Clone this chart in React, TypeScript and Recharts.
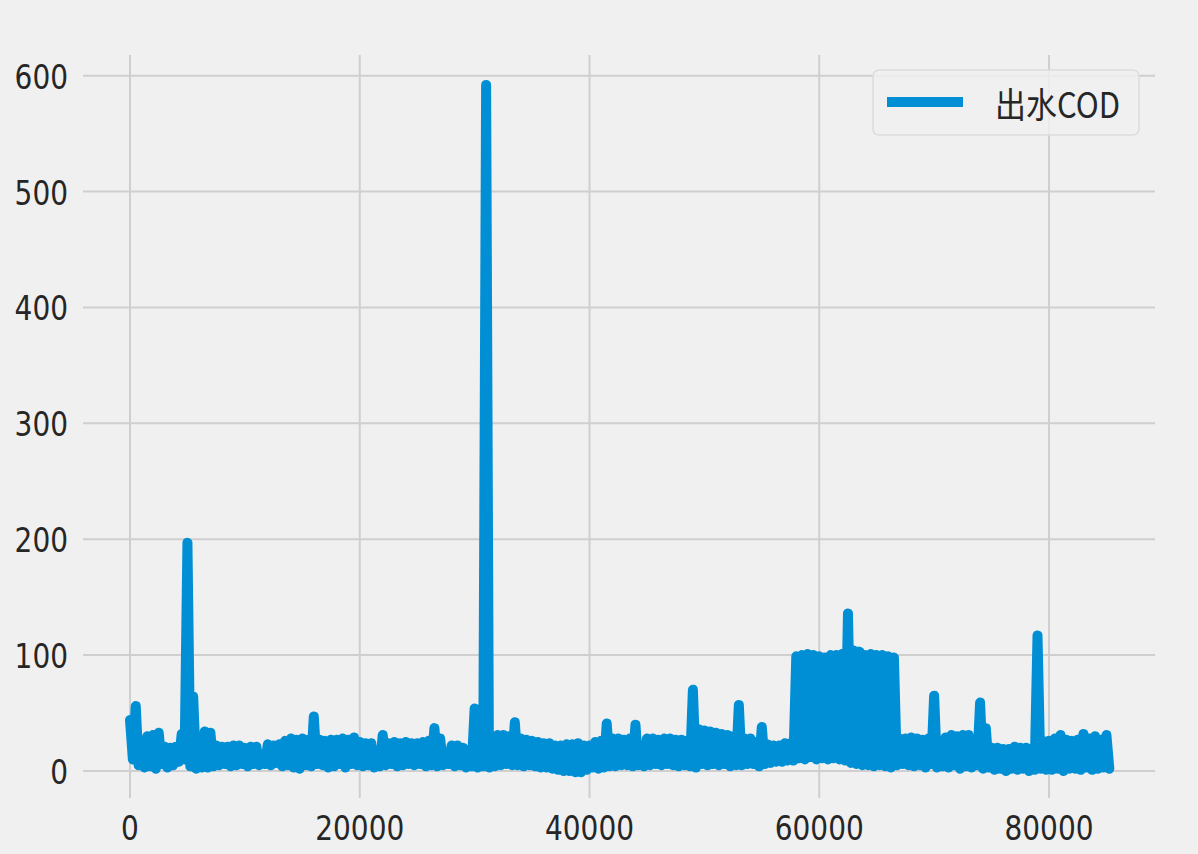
import React from "react";
import { LineChart, Line, XAxis, YAxis, CartesianGrid, Legend } from "recharts";

// Row-index spacing of the samples (one peak + one trough per step)
const SAMPLE_STEP = 500;

// Upper values of 出水COD, one per 500 rows, starting at row 0 (spikes included)
const codPeaks: number[] = [
  44, 56, 12, 30, 31, 33, 21, 20, 21, 32, // 0 - 4500
  197, 64, 25, 34, 33, 22, 21, 21, 22, 22, // 5000 - 9500
  20, 21, 21, 12, 23, 22, 23, 26, 28, 27, // 10000 - 14500
  28, 27, 47, 27, 26, 27, 27, 28, 27, 29, // 15000 - 19500
  25, 24, 24, 18, 31, 24, 25, 24, 25, 24, // 20000 - 24500
  24, 25, 26, 37, 28, 14, 22, 22, 20, 18, // 25000 - 29500
  54, 20, 592, 30, 31, 31, 30, 42, 28, 27, // 30000 - 34500
  26, 25, 24, 24, 22, 22, 23, 23, 24, 22, // 35000 - 39500
  22, 25, 26, 41, 28, 28, 27, 28, 40, 20, // 40000 - 44500
  28, 28, 27, 28, 28, 27, 27, 26, 70, 36, // 45000 - 49500
  35, 34, 33, 32, 31, 30, 57, 28, 28, 25, // 50000 - 54500
  38, 23, 22, 22, 24, 24, 99, 100, 101, 100, // 55000 - 59500
  99, 98, 100, 100, 101, 136, 104, 103, 100, 101, // 60000 - 64500
  100, 100, 99, 98, 28, 28, 29, 28, 27, 28, // 65000 - 69500
  65, 18, 29, 31, 30, 31, 31, 28, 59, 37, // 70000 - 74500
  20, 20, 19, 19, 21, 20, 20, 19, 117, 26, // 75000 - 79500
  26, 28, 31, 27, 26, 27, 32, 28, 30, 27, // 80000 - 84500
  31, // 85000
];

// Lower values of 出水COD, one per 500 rows, starting at row 250
const codTroughs: number[] = [
  10, 5, 3, 4, 2, 6, 3, 5, 8, 10, // 250 - 4750
  4, 2, 3, 3, 4, 5, 6, 4, 5, 6, // 5250 - 9750
  4, 6, 5, 6, 5, 7, 4, 5, 3, 2, // 10250 - 14750
  5, 4, 6, 5, 3, 4, 6, 3, 6, 5, // 15250 - 19750
  4, 5, 3, 4, 5, 6, 4, 5, 6, 5, // 20250 - 24750
  6, 4, 5, 4, 5, 6, 4, 5, 3, 4, // 25250 - 29750
  3, 4, 3, 4, 5, 6, 5, 5, 4, 5, // 30250 - 34750
  4, 3, 3, 2, 1, 0, 0, -1, -1, 1, // 35250 - 39750
  3, 2, 3, 4, 4, 5, 5, 4, 5, 4, // 40250 - 44750
  5, 6, 5, 6, 5, 4, 5, 4, 3, 6, // 45250 - 49750
  5, 6, 5, 6, 4, 5, 5, 6, 6, 4, // 50250 - 54750
  6, 7, 8, 8, 9, 9, 11, 10, 12, 10, // 55250 - 59750
  11, 10, 11, 10, 9, 7, 6, 5, 5, 4, // 60250 - 64750
  5, 4, 3, 5, 6, 5, 4, 5, 3, 6, // 65250 - 69750
  3, 4, 3, 5, 2, 4, 3, 5, 2, 3, // 70250 - 74750
  1, 2, 0, 2, 1, 2, 0, 1, 2, 1, // 75250 - 79750
  1, 2, 0, 2, 2, 1, 3, 1, 2, 3, // 80250 - 84750
  2, // 85250
];

const xTicks = [0, 20000, 40000, 60000, 80000];
const yTicks = [0, 100, 200, 300, 400, 500, 600];
const seriesName = "出水COD";

const data: { x: number; cod: number }[] = [];
codPeaks.forEach((peak, i) => {
  data.push({ x: i * SAMPLE_STEP, cod: peak });
  if (i < codTroughs.length) data.push({ x: i * SAMPLE_STEP + SAMPLE_STEP / 2, cod: codTroughs[i] });
});

const TICK_FONT = "'DejaVu Sans', sans-serif";
const BLUE = "#008fd5";

const XTick = (props: any) => {
  const { x, y, payload } = props;
  return (
    <text
      transform={`translate(${x},${y + 30}) scale(1,1.22)`}
      textAnchor="middle"
      dominantBaseline="central"
      fontFamily={TICK_FONT}
      fontSize={28}
      fill="#262626"
    >
      {payload.value}
    </text>
  );
};

const YTick = (props: any) => {
  const { x, y, payload } = props;
  return (
    <text
      transform={`translate(${x - 15},${y + 1}) scale(1,1.22)`}
      textAnchor="end"
      dominantBaseline="central"
      fontFamily={TICK_FONT}
      fontSize={28}
      fill="#262626"
    >
      {payload.value}
    </text>
  );
};

const LegendBox = () => (
  <svg width={268} height={67} style={{ display: "block" }}>
    <rect x={1} y={1} width={266} height={65} rx={6} ry={6} fill="rgba(240,240,240,0.8)" stroke="#dcdcdc" strokeWidth={1.5} />
    <line x1={15} y1={33} x2={91} y2={33} stroke={BLUE} strokeWidth={10} />
    <text
      transform="translate(123,34) scale(1,1.2)"
      dominantBaseline="central"
      fontFamily="'Noto Sans CJK SC', sans-serif"
      fontSize={29}
      fill="#262626"
      textLength={125}
      lengthAdjust="spacingAndGlyphs"
    >
      {seriesName}
    </text>
  </svg>
);

export default function App() {
  return (
    <div style={{ position: "absolute", left: 0, top: 0, width: 1198, height: 854, background: "#f0f0f0" }}>
      <LineChart
        width={1198}
        height={854}
        data={data}
        margin={{ top: 55, right: 43, bottom: 0, left: 8 }}
      >
        <CartesianGrid
          stroke="#cfcfcf"
          strokeWidth={2}
          horizontalValues={yTicks}
          verticalValues={xTicks}
        />
        <XAxis
          dataKey="x"
          type="number"
          domain={[-4091, 89227]}
          ticks={xTicks}
          allowDataOverflow
          axisLine={false}
          tickLine={false}
          tickSize={0}
          tickMargin={0}
          height={56}
          tick={<XTick />}
          interval={0}
        />
        <YAxis
          type="number"
          domain={[-23.3, 617.8]}
          ticks={yTicks}
          allowDataOverflow
          axisLine={false}
          tickLine={false}
          tickSize={0}
          tickMargin={0}
          width={75}
          tick={<YTick />}
          interval={0}
        />
        <Legend
          layout="horizontal"
          verticalAlign="middle"
          align="center"
          wrapperStyle={{ left: 872, top: 69, width: 268, height: 67 }}
          content={() => <LegendBox />}
        />
        <Line
          type="linear"
          dataKey="cod"
          name={seriesName}
          stroke={BLUE}
          strokeWidth={10}
          strokeLinejoin="round"
          strokeLinecap="round"
          dot={false}
          activeDot={false}
          isAnimationActive={false}
        />
      </LineChart>
    </div>
  );
}
